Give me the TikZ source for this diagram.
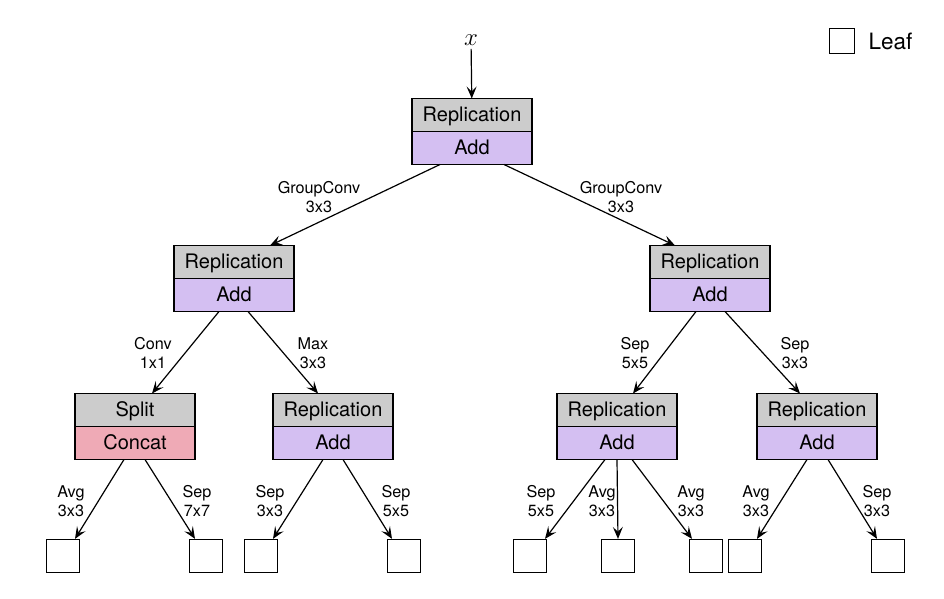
\documentclass[tikz,border=0pt]{standalone}
\usepackage{fontspec}
\setmainfont{TeX Gyre Heros}
\usetikzlibrary{positioning,calc,arrows.meta}

\definecolor{opgray}{HTML}{CCCCCC}
\definecolor{oppurple}{HTML}{D4BFF2}
\definecolor{oppink}{HTML}{EFAAB6}

\tikzset{
  half/.style={draw, line width=1.3pt, minimum width=120pt, minimum height=33pt,
    inner sep=0pt, outer sep=0pt, text height=13.5pt, text depth=0pt,
    font=\fontsize{20}{22}\selectfont},
  top/.style={half, fill=opgray},
  add/.style={half, fill=oppurple},
  cat/.style={half, fill=oppink},
  leaf/.style={draw, line width=1.3pt, minimum size=33pt, inner sep=0pt},
  op/.style={align=center, font=\fontsize{16.2}{19.5}\selectfont},
  edge/.style={line width=1.2pt, -{Stealth[length=12pt, width=10pt, inset=5pt]}}
}

\begin{document}
\begin{tikzpicture}[x=1pt, y=-1pt]
\useasboundingbox (0,0) rectangle (944,598);

% input
\node (x) at (471,40) {\fontsize{27}{27}\selectfont$x$};

% root
\node[top] (rep0) at (472,115) {Replication};
\node[add, below=0pt of rep0] (add0) {Add};

% level 1
\node[top] (rep1) at (234,262) {Replication};
\node[add, below=0pt of rep1] (add1) {Add};
\node[top] (rep2) at (710,262) {Replication};
\node[add, below=0pt of rep2] (add2) {Add};

% level 2
\node[top] (split3) at (135,410) {Split};
\node[cat, below=0pt of split3] (cat3) {Concat};
\node[top] (rep4) at (333,410) {Replication};
\node[add, below=0pt of rep4] (add4) {Add};
\node[top] (rep5) at (617,410) {Replication};
\node[add, below=0pt of rep5] (add5) {Add};
\node[top] (rep6) at (817,410) {Replication};
\node[add, below=0pt of rep6] (add6) {Add};

% leaves
\node[leaf] (l1) at (63,556) {};
\node[leaf] (l2) at (206,556) {};
\node[leaf] (l3) at (261,556) {};
\node[leaf] (l4) at (404,556) {};
\node[leaf] (l5) at (530,556) {};
\node[leaf] (l6) at (618,556) {};
\node[leaf] (l7) at (706,556) {};
\node[leaf] (l8) at (745,556) {};
\node[leaf] (l9) at (888,556) {};

% legend
\node[leaf, minimum size=25pt] (key) at (842,41) {};
\node[right=10pt of key, font=\fontsize{22.5}{22.5}\selectfont] (keytxt) {Leaf};

% edges
\draw[edge] (x) -- (rep0);
\draw[edge] ($(add0.south)+(-32,0)$) -- ($(rep1.north)+(36,0)$);
\draw[edge] ($(add0.south)+(32,0)$) -- ($(rep2.north)+(-35,0)$);
\draw[edge] ($(add1.south)+(-15,0)$) -- ($(split3.north)+(17,0)$);
\draw[edge] ($(add1.south)+(14,0)$) -- ($(rep4.north)+(-15,0)$);
\draw[edge] ($(add2.south)+(-14,0)$) -- ($(rep5.north)+(16,0)$);
\draw[edge] ($(add2.south)+(15,0)$) -- ($(rep6.north)+(-17,0)$);
\draw[edge] ($(cat3.south)+(-11,0)$) -- ($(l1.north)+(12,0)$);
\draw[edge] ($(cat3.south)+(10,0)$) -- ($(l2.north)+(-11,0)$);
\draw[edge] ($(add4.south)+(-10,0)$) -- ($(l3.north)+(12,0)$);
\draw[edge] ($(add4.south)+(10,0)$) -- ($(l4.north)+(-12,0)$);
\draw[edge] ($(add5.south)+(-12,0)$) -- ($(l5.north)+(15,0)$);
\draw[edge] (add5.south) -- (l6.north);
\draw[edge] ($(add5.south)+(15,0)$) -- ($(l7.north)+(-14,0)$);
\draw[edge] ($(add6.south)+(-10,0)$) -- ($(l8.north)+(12,0)$);
\draw[edge] ($(add6.south)+(11,0)$) -- ($(l9.north)+(-11,0)$);

% edge labels
\node[op] (o1) at (319,197) {GroupConv\\3x3};
\node[op] (o2) at (621,197) {GroupConv\\3x3};
\node[op] (o3) at (153,353) {Conv\\1x1};
\node[op] (o4) at (313,353) {Max\\3x3};
\node[op] (o5) at (635,353) {Sep\\5x5};
\node[op] (o6) at (795,353) {Sep\\3x3};
\node[op] (o7) at (71,501) {Avg\\3x3};
\node[op] (o8) at (197,501) {Sep\\7x7};
\node[op] (o9) at (270,501) {Sep\\3x3};
\node[op] (o10) at (396,501) {Sep\\5x5};
\node[op] (o11) at (541,501) {Sep\\5x5};
\node[op] (o12) at (602,501) {Avg\\3x3};
\node[op] (o13) at (691,501) {Avg\\3x3};
\node[op] (o14) at (756,501) {Avg\\3x3};
\node[op] (o15) at (877,501) {Sep\\3x3};
\end{tikzpicture}
\end{document}
